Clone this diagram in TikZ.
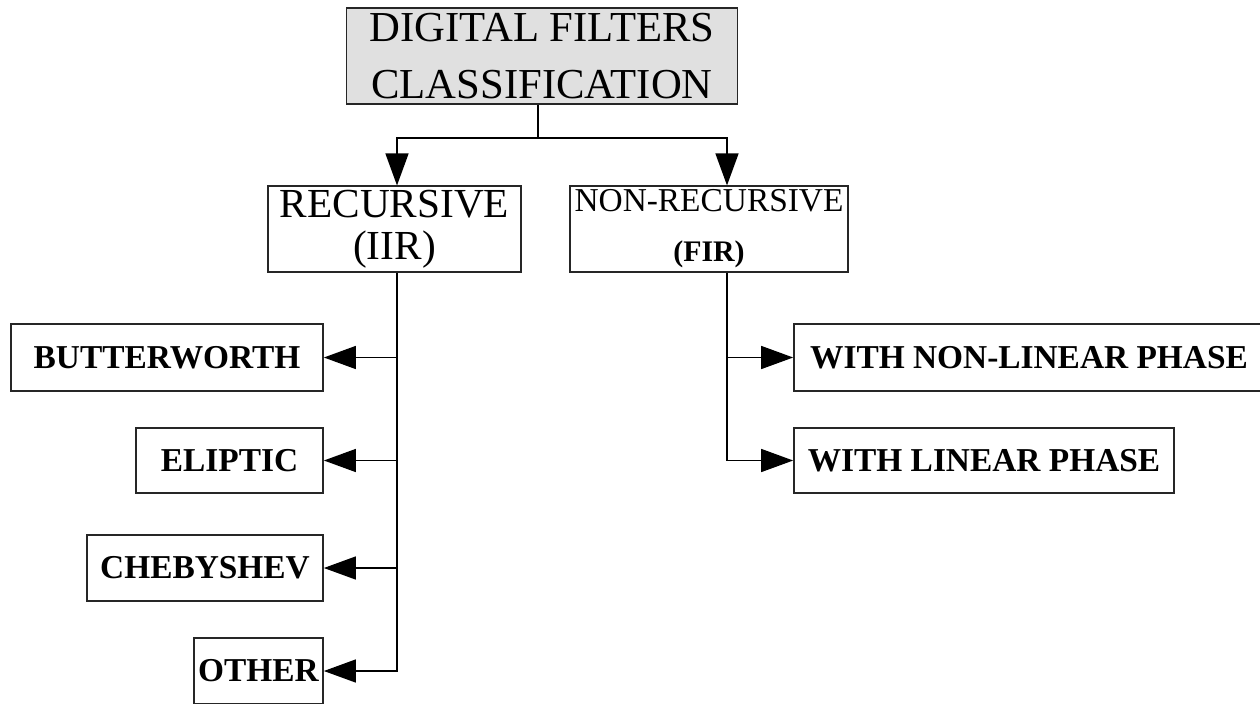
\documentclass[tikz,border=0pt]{standalone}
\usepackage{fontspec}
\setmainfont{Liberation Serif}
\usepackage{xcolor}
\usetikzlibrary{arrows.meta,calc}
\definecolor{boxGray}{HTML}{E0E0E0}

\begin{document}
\begin{tikzpicture}[x=0.02cm, y=-0.02cm,
  box/.style={draw=black!85, line width=1pt, inner sep=2pt, align=center,
              font=\fontsize{19}{22}\selectfont\bfseries},
  link/.style={-{Triangle[length=0.64cm, width=0.46cm]}, line width=0.8pt},
  trunk/.style={line width=0.8pt},
]
\useasboundingbox (0,0) rectangle (1260,703);

% Root
\node[box, fill=boxGray, minimum width=7.82cm, minimum height=1.92cm,
      font=\fontsize{24.3}{32}\selectfont] (root) at (542,56)
  {DIGITAL FILTERS\\CLASSIFICATION};

% Main classes
\node[box, minimum width=5.06cm, minimum height=1.68cm,
      font=\fontsize{23.5}{24}\selectfont] (iir) at (394.5,229)
  {RECURSIVE\\(IIR)};
\node[box, minimum width=5.56cm, minimum height=1.68cm, font=\fontsize{19}{28.4}\selectfont]
  (fir) at (709,229) {NON-RECURSIVE\\{\fontsize{17}{20}\selectfont\bfseries (FIR)}};

% IIR types
\node[box, minimum width=6.24cm, minimum height=1.34cm] (butter) at (167,357.5) {BUTTERWORTH};
\node[box, minimum width=3.74cm, minimum height=1.30cm] (eliptic) at (229.5,460.5) {ELIPTIC};
\node[box, minimum width=4.72cm, minimum height=1.32cm] (cheby) at (205,568) {CHEBYSHEV};
\node[box, minimum width=2.58cm, minimum height=1.32cm] (other) at (258.5,671) {OTHER};

% FIR types
\node[box, minimum width=9.4cm, minimum height=1.34cm] (nonlin) at (1029,357.5) {WITH NON-LINEAR PHASE};
\node[box, minimum width=7.6cm, minimum height=1.30cm] (lin) at (984,460.5) {WITH LINEAR PHASE};

% Junctions
\coordinate (split) at (538,138);
\coordinate (iirx) at (397,0);
\coordinate (firx) at (727,0);

% Connectors
\draw[trunk] (root.south -| split) -- (split);
\draw[link] (split) -| (iir.north -| iirx);
\draw[link] (split) -| (fir.north -| firx);

\draw[link] (iir.south -| iirx) |- (other.east);
\draw[link] (butter.east -| iirx) -- (butter.east);
\draw[link] (eliptic.east -| iirx) -- (eliptic.east);
\draw[link] (cheby.east -| iirx) -- (cheby.east);

\draw[link] (fir.south -| firx) |- (lin.west);
\draw[link] (nonlin.west -| firx) -- (nonlin.west);

\end{tikzpicture}
\end{document}
